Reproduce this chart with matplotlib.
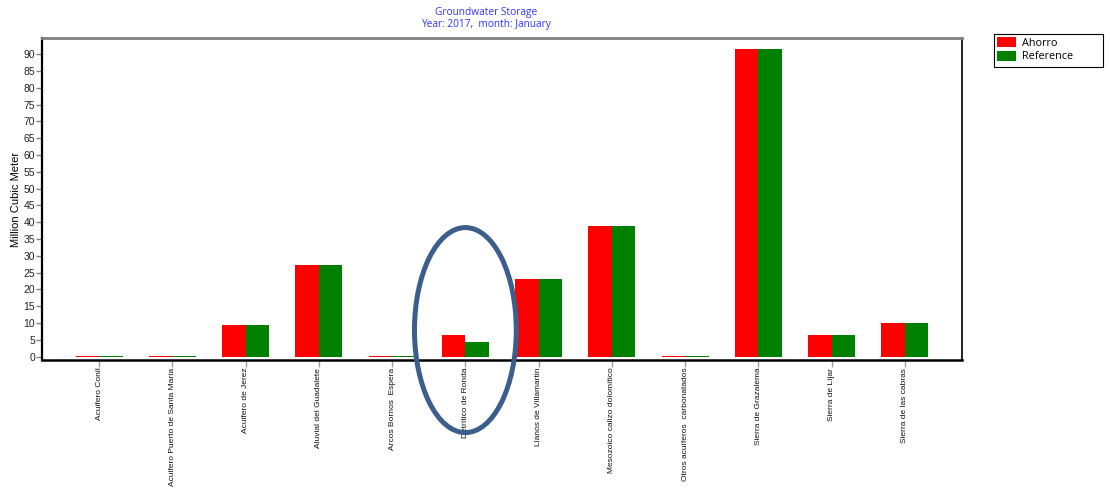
import matplotlib
matplotlib.use("Agg")
import matplotlib.pyplot as plt
from matplotlib.patches import Ellipse, Rectangle
import numpy as np

categories = [
    "Acuifero Conil",
    "Acuifero Puerto de Santa María",
    "Acuifero de Jerez",
    "Aluvial del Guadalete",
    "Arcos Bornos  Espera",
    "Detrítico de Ronda",
    "Llanos de Villamartin",
    "Mesozoico calizo dolomítico",
    "Otros acuíferos  carbonatados",
    "Sierra de Grazalema",
    "Sierra de Líjar",
    "Sierra de las cabras",
]
ahorro = [0.3, 0.3, 9.4, 27.3, 0.3, 6.5, 23.1, 38.9, 0.3, 91.5, 6.5, 10.0]
reference = [0.3, 0.3, 9.4, 27.3, 0.3, 4.4, 23.1, 38.9, 0.3, 91.5, 6.5, 10.0]
yticks = list(range(0, 95, 5))

title_line1 = "Groundwater Storage"
title_line2 = "Year: 2017,  month: January"
ylabel = "Million Cubic Meter"

W, H, DPI = 1110, 488, 100
fig = plt.figure(figsize=(W / DPI, H / DPI), dpi=DPI)
ax = fig.add_axes([42 / W, 1 - 360 / H, (962 - 42) / W, (360 - 38) / H])

x = np.arange(len(categories))
bw = 0.32
ax.bar(x - bw / 2, ahorro, width=bw, color="#FF0000", label="Ahorro", linewidth=0)
ax.bar(x + bw / 2, reference, width=bw, color="#008000", label="Reference", linewidth=0)

ax.set_xlim(-0.78, len(categories) - 1 + 0.78)
ax.set_ylim(-1.0, 94.8)

sans = ["Liberation Sans", "DejaVu Sans"]
ax.set_yticks(yticks)
ax.set_yticklabels([str(v) for v in yticks], fontsize=7.5, family=sans, color="#222222")
ax.set_xticks(x)
ax.set_xticklabels(categories, rotation=90, fontsize=6.0, family=sans, color="#111111", va="top")
ax.tick_params(axis="y", direction="out", length=4, width=1, color="#808080", pad=1)
ax.tick_params(axis="x", direction="out", length=5, width=1, color="#a0a0a0", pad=0.5)

for side in ["left", "bottom", "right"]:
    ax.spines[side].set_color("black")
ax.spines["left"].set_linewidth(1.6)
ax.spines["bottom"].set_linewidth(1.8)
ax.spines["right"].set_linewidth(1.2)
ax.spines["top"].set_color("#808080")
ax.spines["top"].set_linewidth(2.0)

ax.set_ylabel(ylabel, fontsize=8, family=sans)
ax.yaxis.set_label_coords(-21 / (962 - 42), 0.5)

title_font = ["Open Sans", "DejaVu Sans"]
fig.text(486 / W, 1 - 13 / H, title_line1, ha="center", va="center", fontsize=7.3, color="#3333FF", family=title_font)
fig.text(486 / W, 1 - 25 / H, title_line2, ha="center", va="center", fontsize=7.3, color="#3333FF", family=title_font)

# legend box drawn separately so it can be wider than its entries
fig.patches.append(Rectangle((994 / W, 1 - 67 / H), 109 / W, 33 / H, transform=fig.transFigure,
                             fill=False, edgecolor="black", linewidth=0.8))
leg = fig.legend(loc="upper left", bbox_to_anchor=(995 / W, 1 - 35 / H), frameon=False,
                 prop={"family": title_font, "size": 7.8}, handlelength=1.75, handleheight=1.0,
                 handletextpad=0.5, borderpad=0.2, labelspacing=0.2, borderaxespad=0)

# highlight around the Ronda bars
ell = Ellipse((5.0, 7.9), width=1.39, height=61, fill=False, edgecolor="#3B5E8C", linewidth=3.6,
              transform=ax.transData, clip_on=False, zorder=10)
ax.add_patch(ell)

fig.savefig("out.png", dpi=DPI)
